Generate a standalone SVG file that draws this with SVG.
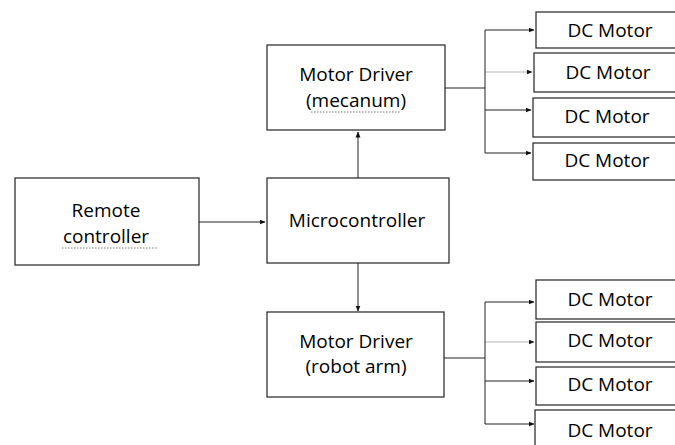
<svg xmlns="http://www.w3.org/2000/svg" width="675" height="445" viewBox="0 0 675 445">
<defs>
<marker id="ah" markerWidth="6" markerHeight="6" refX="5.5" refY="3" orient="auto" markerUnits="userSpaceOnUse">
<path d="M0,0.5 L6,3 L0,5.5 z" fill="#111"/>
</marker>
<style>
.box{fill:#fff;stroke:#222;stroke-width:1.2}
.t{font-family:"Open Sans","Liberation Sans",sans-serif;font-size:19px;fill:#000;text-anchor:middle}
.c{fill:none;stroke:#222;stroke-width:1}
.sq{fill:none;stroke:#777;stroke-width:1;stroke-dasharray:1.5 1.5}
</style>
</defs>
<rect width="675" height="445" fill="#fff"/>
<g id="connectors">
<path class="c" d="M199,222 H265" marker-end="url(#ah)"/>
<path class="c" d="M358,178 V132" marker-end="url(#ah)"/>
<path class="c" d="M358,263 V311" marker-end="url(#ah)"/>
<path class="c" d="M445,88 H485"/>
<path class="c" d="M485,30 V153"/>
<path class="c" d="M485,30 H534" marker-end="url(#ah)"/>
<path class="c" d="M485,72 H532" stroke-opacity="0.35" marker-end="url(#ah)"/>
<path class="c" d="M485,110 H531" marker-end="url(#ah)"/>
<path class="c" d="M485,153 H531" marker-end="url(#ah)"/>
<path class="c" d="M444,358 H485"/>
<path class="c" d="M485,302 V424"/>
<path class="c" d="M485,302 H534" marker-end="url(#ah)"/>
<path class="c" d="M485,342 H534" stroke-opacity="0.35" marker-end="url(#ah)"/>
<path class="c" d="M485,381 H534" marker-end="url(#ah)"/>
<path class="c" d="M485,424 H534" marker-end="url(#ah)"/>
</g>
<g id="remote">
<rect class="box" x="15" y="178" width="184" height="87"/>
<text class="t" x="106" y="217">Remote</text>
<text class="t" x="106" y="243">controller</text>
<path class="sq" d="M62,248 H158"/>
</g>
<g id="micro">
<rect class="box" x="267" y="178" width="182" height="85"/>
<text class="t" x="357" y="227">Microcontroller</text>
</g>
<g id="driver-mecanum">
<rect class="box" x="267" y="45" width="178" height="85"/>
<text class="t" x="356" y="81">Motor Driver</text>
<text class="t" x="356" y="107">(mecanum)</text>
<path class="sq" d="M311,112 H400"/>
</g>
<g id="driver-arm">
<rect class="box" x="267" y="312" width="177" height="85"/>
<text class="t" x="356" y="348">Motor Driver</text>
<text class="t" x="356" y="373">(robot arm)</text>
</g>
<g id="m1"><rect class="box" x="536" y="12" width="145" height="36"/><text class="t" x="610" y="37">DC Motor</text></g>
<g id="m2"><rect class="box" x="534" y="53" width="145" height="39"/><text class="t" x="608" y="79">DC Motor</text></g>
<g id="m3"><rect class="box" x="533" y="98" width="145" height="39"/><text class="t" x="607" y="123">DC Motor</text></g>
<g id="m4"><rect class="box" x="533" y="143" width="145" height="37"/><text class="t" x="607" y="167">DC Motor</text></g>
<g id="m5"><rect class="box" x="536" y="280" width="145" height="39"/><text class="t" x="610" y="306">DC Motor</text></g>
<g id="m6"><rect class="box" x="536" y="322" width="145" height="40"/><text class="t" x="610" y="347">DC Motor</text></g>
<g id="m7"><rect class="box" x="536" y="367" width="145" height="38"/><text class="t" x="610" y="391">DC Motor</text></g>
<g id="m8"><rect class="box" x="535" y="410" width="145" height="40"/><text class="t" x="610" y="437">DC Motor</text></g>
</svg>
